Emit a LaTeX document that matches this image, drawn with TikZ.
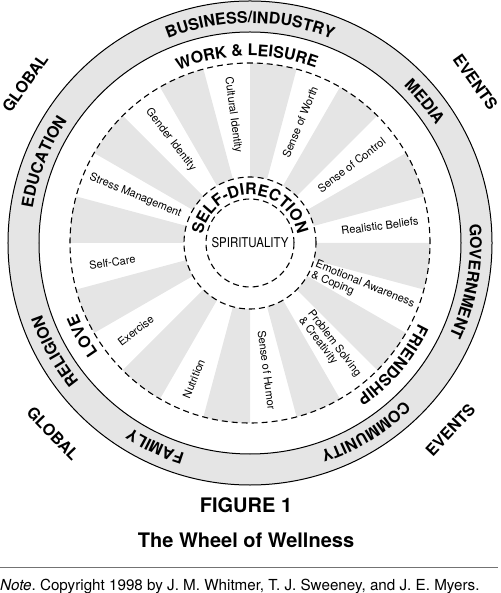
\documentclass[tikz,border=0pt]{standalone}
\usepackage{fontspec}
\setmainfont{TeX Gyre Heros}
\usetikzlibrary{decorations.text}
\definecolor{wheelgray}{gray}{0.9}
\tikzset{
  rim/.style={line width=1pt},
  dashrim/.style={line width=1.1pt,dash pattern=on 6pt off 4pt},
  task/.style={font=\fontsize{11}{11.5}\selectfont,align=left,inner sep=0pt},
  outword/.style={font=\bfseries\fontsize{16}{16}\selectfont,inner sep=0pt},
  caption/.style={font=\bfseries\fontsize{20}{20}\selectfont,anchor=base,inner sep=0pt},
  bandtext/.style={decorate,decoration={text along path,text align=center,
      text={|\bfseries\fontsize{16}{16}\selectfont|#1}}},
}
\begin{document}
\frenchspacing
\begin{tikzpicture}[x=1pt,y=1pt]
  \useasboundingbox (-250,-350) rectangle (250,243);
  % outer ring
  \fill[wheelgray,even odd rule] (0,0) circle[radius=242] (0,0) circle[radius=211];
  \draw[rim] (0,0) circle[radius=242];
  \draw[rim] (0,0) circle[radius=211];
  % spokes
  \foreach \a in {15,45,...,345}
    \fill[wheelgray] (\a:66) arc[start angle=\a,delta angle=15,radius=66]
      -- ({\a+15}:180) arc[start angle=\a+15,delta angle=-15,radius=180] -- cycle;
  \draw[dashrim] (0,0) circle[radius=180];
  \draw[dashrim] (0,0) circle[radius=66];
  \draw[dashrim] (0,0) circle[radius=44];
  % life tasks
  \foreach \a/\r/\t/\s [count=\i] in {7.5/131/7.5/Realistic Beliefs,
      37.5/128/37.5/Sense of Control, 67.5/131/67.5/Sense of Worth,
      97.5/129/-82.5/Cultural Identity, 127.5/130/-52.5/Gender Identity,
      157.5/124/-22.5/Stress Management, 188/139/8/Self-Care,
      217.5/144/37.5/Exercise, 247.5/147/67.5/Nutrition,
      277.5/128/-82.5/Sense of Humor,
      307.5/131/-52.5/{Problem Solving\\\& Creativity},
      337.5/122/-22.5/{Emotional Awareness\\\& Coping}}
    \node[task,rotate=\t] (task\i) at (\a:\r) {\s};
  \node[font=\fontsize{13.5}{14}\selectfont,inner sep=0pt] (spirit) at (0,0) {\scalebox{0.85}[1]{SPIRITUALITY}};
  \path[bandtext={SELF-DIRECTION}] (180:48) arc[start angle=180,end angle=0,radius=48];
  % ring words
  \path[bandtext={WORK {\&} LEISURE}] (131:187) arc[start angle=131,end angle=51,radius=187];
  \path[bandtext={FRIENDSHIP}] (-0.5:187) arc[start angle=-0.5,end angle=-80.5,radius=187];
  \path[bandtext={LOVE}] (249:187) arc[start angle=249,end angle=169,radius=187];
  \path[bandtext={BUSINESS/INDUSTRY}] (130:220) arc[start angle=130,end angle=50,radius=220];
  \path[bandtext={MEDIA}] (79:220) arc[start angle=79,end angle=-1,radius=220];
  \path[bandtext={GOVERNMENT}] (30:220) arc[start angle=30,end angle=-50,radius=220];
  \path[bandtext={COMMUNITY}] (-18.5:220) arc[start angle=-18.5,end angle=-98.5,radius=220];
  \path[bandtext={FAMILY}] (-75:220) arc[start angle=-75,end angle=-155,radius=220];
  \path[bandtext={RELIGION}] (249:220) arc[start angle=249,end angle=169,radius=220];
  \path[bandtext={EDUCATION}] (198.5:220) arc[start angle=198.5,end angle=118.5,radius=220];
  % outside
  \node[outword,rotate=54.6] (globalA) at (144.6:276) {GLOBAL};
  \node[outword,rotate=-54.5] (eventsA) at (35.5:277) {EVENTS};
  \node[outword,rotate=-46] (globalB) at (224:274) {GLOBAL};
  \node[outword,rotate=47] (eventsB) at (-43:274) {EVENTS};
  % caption
  \node[caption] (fig) at (-4,-269) {FIGURE 1};
  \node[caption] (title) at (-4,-304) {The Wheel of Wellness};
  \draw[black!55,line width=0.8pt] (-250,-324) -- (248,-324);
  \node[anchor=base west,inner sep=0pt,font=\fontsize{15.2}{16}\selectfont] (note) at (-250,-347)
    {\textit{Note}. Copyright 1998 by J. M. Whitmer, T. J. Sweeney, and J. E. Myers.};
\end{tikzpicture}
\end{document}
